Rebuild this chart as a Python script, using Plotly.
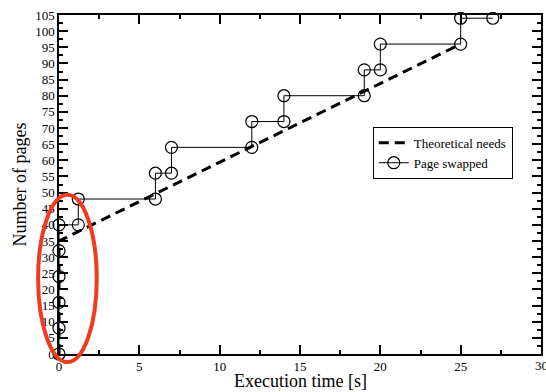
import plotly.graph_objects as go

# Data
swap_t = [0, 0, 0, 0, 0, 0, 1.2, 1.2, 6, 6, 7, 7, 12, 12, 14, 14, 19, 19, 20, 20, 25, 25, 27]
swap_p = [0, 8, 16, 24, 32, 40, 40, 48, 48, 56, 56, 64, 64, 72, 72, 80, 80, 88, 88, 96, 96, 104, 104]
theo_t = [0, 0, 25]
theo_p = [0, 35, 96]

x_range = [0, 30]
y_range = [0, 105]
x_ticks = [0, 5, 10, 15, 20, 25, 30]
y_ticks = list(range(0, 106, 5))

serif = "Liberation Serif, Times New Roman, serif"

fig = go.Figure()
fig.add_trace(go.Scatter(
    x=theo_t, y=theo_p, mode="lines", name="Theoretical needs",
    line=dict(color="black", width=3, dash="10px,6px"),
    cliponaxis=False,
))
fig.add_trace(go.Scatter(
    x=swap_t, y=swap_p, mode="lines+markers", name="Page swapped",
    line=dict(color="black", width=1),
    marker=dict(symbol="circle-open", size=12, color="black", line=dict(width=1.2)),
    cliponaxis=False,
))

W, H = 546, 392
ml, mr, mt, mb = 59, 3, 15, 38

axis_common = dict(
    showgrid=False, zeroline=False, showline=True, linecolor="black", linewidth=1.5,
    mirror="allticks", ticks="inside", ticklen=9, tickwidth=1.5, tickcolor="black",
    tickfont=dict(family=serif, size=13, color="black"),
)

# last x tick label is drawn as an annotation (it overflows the page edge)
x_labels = [str(v) for v in x_ticks]
fig.update_xaxes(range=x_range, tickvals=x_ticks, ticktext=x_labels[:-1] + [""],
                 minor=dict(dtick=2.5, ticks="inside", ticklen=4, tickwidth=1.5, tickcolor="black"),
                 **axis_common)
fig.update_yaxes(range=y_range, tickvals=y_ticks, ticktext=[str(v) for v in y_ticks],
                 minor=dict(dtick=2.5, ticks="inside", ticklen=4, tickwidth=1.5, tickcolor="black"),
                 title=dict(text="Number of pages", font=dict(family=serif, size=18, color="black"), standoff=4),
                 **axis_common)

fig.add_annotation(x=x_ticks[-1], y=0, xref="x", yref="paper", text=x_labels[-1],
                   showarrow=False, yanchor="top", yshift=-2,
                   font=dict(family=serif, size=13, color="black"))
fig.add_annotation(x=0.5, y=0, xref="paper", yref="paper", text="Execution time [s]",
                   showarrow=False, yanchor="middle", yshift=-27,
                   font=dict(family=serif, size=18, color="black"))

# red ellipse highlight (in paper coords derived from data ranges)
def px(v):
    return (v - x_range[0]) / (x_range[1] - x_range[0])
def py(v):
    return (v - y_range[0]) / (y_range[1] - y_range[0])

fig.add_shape(type="circle", xref="paper", yref="paper",
              x0=px(-1.3), x1=px(2.35), y0=py(-2.5), y1=py(49.3),
              line=dict(color="#f03c1e", width=4), layer="above")

fig.update_layout(
    width=W, height=H,
    margin=dict(l=ml, r=mr, t=mt, b=mb),
    paper_bgcolor="white", plot_bgcolor="white",
    showlegend=True,
    legend=dict(x=0.651, y=0.67, xanchor="left", yanchor="top",
                bgcolor="white", bordercolor="black", borderwidth=1,
                font=dict(family=serif, size=13, color="black"),
                tracegroupgap=0, itemwidth=30),
)

fig.write_html("out.html")
